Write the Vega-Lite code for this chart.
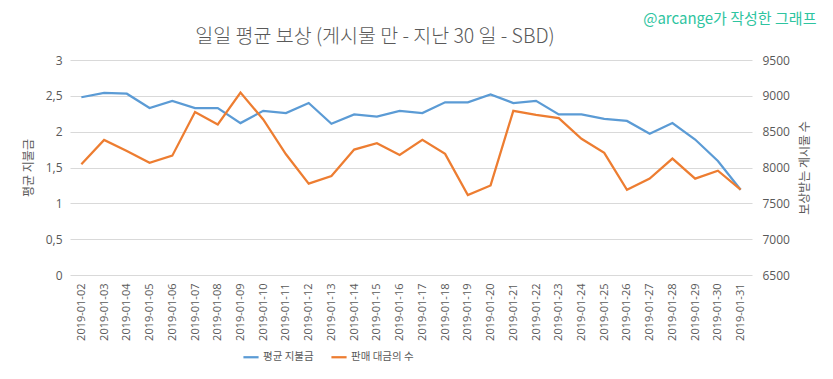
{
  "$schema": "https://vega.github.io/schema/vega-lite/v6.json",
  "padding": {"left": 22, "top": 11, "right": 16, "bottom": 8},
  "background": "white",
  "title": {
    "text": "@arcange가 작성한 그래프",
    "anchor": "end",
    "frame": "bounds",
    "dx": 6,
    "font": "Noto Sans CJK KR",
    "fontSize": 15,
    "fontWeight": "normal",
    "color": "#2ec4a0",
    "offset": 0
  },
  "config": {
    "view": {"stroke": null},
    "font": "Noto Sans CJK KR",
    "axis": {
      "labelFont": "Open Sans",
      "labelColor": "#595959",
      "labelFontSize": 11,
      "titleFont": "Noto Sans CJK KR",
      "titleColor": "#595959",
      "titleFontSize": 12,
      "titleFontWeight": "normal",
      "ticks": false,
      "domain": false,
      "gridColor": "#d9d9d9",
      "gridWidth": 1
    },
    "legend": {
      "labelFont": "Noto Sans CJK KR",
      "labelColor": "#595959",
      "labelFontSize": 10.5
    }
  },
  "data": {
    "values": [
      {"date": "2019-01-02", "payout": 2.48, "count": 8045},
      {"date": "2019-01-03", "payout": 2.54, "count": 8385},
      {"date": "2019-01-04", "payout": 2.53, "count": 8230},
      {"date": "2019-01-05", "payout": 2.33, "count": 8065},
      {"date": "2019-01-06", "payout": 2.43, "count": 8165},
      {"date": "2019-01-07", "payout": 2.33, "count": 8775},
      {"date": "2019-01-08", "payout": 2.33, "count": 8600},
      {"date": "2019-01-09", "payout": 2.12, "count": 9045},
      {"date": "2019-01-10", "payout": 2.29, "count": 8670},
      {"date": "2019-01-11", "payout": 2.26, "count": 8185},
      {"date": "2019-01-12", "payout": 2.40, "count": 7775},
      {"date": "2019-01-13", "payout": 2.11, "count": 7880},
      {"date": "2019-01-14", "payout": 2.24, "count": 8250},
      {"date": "2019-01-15", "payout": 2.21, "count": 8340},
      {"date": "2019-01-16", "payout": 2.29, "count": 8175},
      {"date": "2019-01-17", "payout": 2.26, "count": 8385},
      {"date": "2019-01-18", "payout": 2.41, "count": 8190},
      {"date": "2019-01-19", "payout": 2.41, "count": 7615},
      {"date": "2019-01-20", "payout": 2.52, "count": 7750},
      {"date": "2019-01-21", "payout": 2.40, "count": 8790},
      {"date": "2019-01-22", "payout": 2.43, "count": 8735},
      {"date": "2019-01-23", "payout": 2.24, "count": 8690},
      {"date": "2019-01-24", "payout": 2.24, "count": 8400},
      {"date": "2019-01-25", "payout": 2.18, "count": 8205},
      {"date": "2019-01-26", "payout": 2.15, "count": 7690},
      {"date": "2019-01-27", "payout": 1.97, "count": 7845},
      {"date": "2019-01-28", "payout": 2.12, "count": 8125},
      {"date": "2019-01-29", "payout": 1.89, "count": 7845},
      {"date": "2019-01-30", "payout": 1.59, "count": 7955},
      {"date": "2019-01-31", "payout": 1.19, "count": 7690}
    ]
  },
  "vconcat": [
    {
      "width": 682,
      "height": 215,
      "title": {
        "text": "일일 평균 보상 (게시물 만 - 지난 30 일 - SBD)",
        "anchor": "middle",
        "frame": "group",
        "dx": -36,
        "dy": 5,
        "font": "Noto Sans CJK KR",
        "fontSize": 19.5,
        "fontWeight": 300,
        "color": "#595959",
        "offset": 12
      },
      "encoding": {
        "x": {
          "field": "date",
          "type": "ordinal",
          "scale": {"paddingOuter": 0.5},
          "axis": {"title": null, "labelAngle": -90, "labelPadding": 8, "grid": false}
        }
      },
      "layer": [
        {
          "mark": {"type": "line", "strokeWidth": 2.25},
          "encoding": {
            "y": {
              "field": "payout",
              "type": "quantitative",
              "scale": {"domain": [0, 3]},
              "axis": {
                "title": "평균 지불금",
                "values": [0, 0.5, 1, 1.5, 2, 2.5, 3],
                "labelExpr": "replace(format(datum.value, '~g'), '.', ',')",
                "labelPadding": 8,
                "titlePadding": 10,
                "labelFontSize": 12
              }
            },
            "color": {
              "datum": "평균 지불금",
              "type": "nominal",
              "scale": {"domain": ["평균 지불금", "판매 대금의 수"], "range": ["#5b9bd5", "#ed7d31"]},
              "legend": {
                "title": null,
                "orient": "none",
                "direction": "horizontal",
                "legendX": 172,
                "legendY": 288,
                "symbolType": "stroke",
                "symbolStrokeWidth": 2.25,
                "symbolSize": 230,
                "columnPadding": 12,
                "labelOffset": 3
              }
            }
          }
        },
        {
          "mark": {"type": "line", "strokeWidth": 2.25},
          "encoding": {
            "y": {
              "field": "count",
              "type": "quantitative",
              "scale": {"domain": [6500, 9500]},
              "axis": {
                "title": "보상받는 게시물 수",
                "orient": "right",
                "grid": false,
                "format": "d",
                "values": [6500, 7000, 7500, 8000, 8500, 9000, 9500],
                "labelPadding": 10,
                "titlePadding": 10,
                "titleAngle": -90,
                "titleBaseline": "top",
                "labelFontSize": 12
              }
            },
            "color": {"datum": "판매 대금의 수", "type": "nominal"}
          }
        }
      ],
      "resolve": {"scale": {"y": "independent"}}
    }
  ]
}
